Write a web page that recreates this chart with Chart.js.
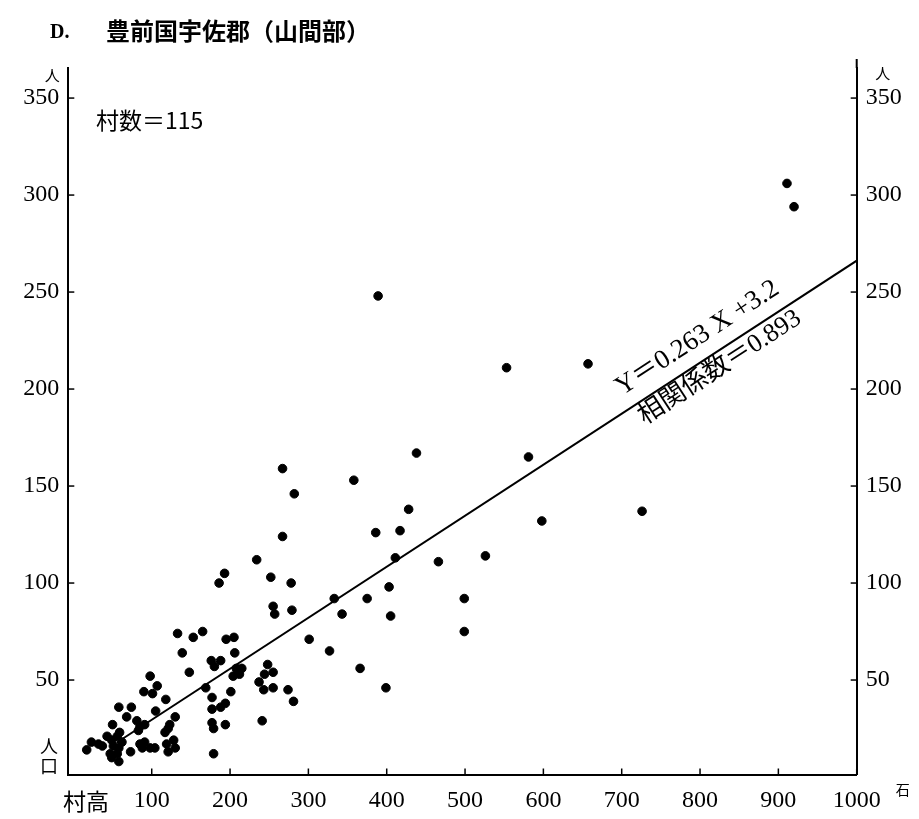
<!DOCTYPE html>
<html>
<head>
<meta charset="utf-8">
<script src="https://cdn.jsdelivr.net/npm/chart.js@4.4.1/dist/chart.umd.min.js"></script>
<style>
  html, body { margin: 0; padding: 0; background: #fff; }
  canvas { display: block; }
</style>
</head>
<body>
<canvas id="chart" width="919" height="819"></canvas>
<script>
// 村高 (石)
const muraDaka = [
  911, 920, 389, 553, 657, 438, 581, 726, 598, 526, 499, 499,
  267, 358, 282, 428, 267, 386, 417, 411, 466, 234, 193, 186, 252, 278, 403, 375, 333,
  255, 257, 279, 343, 405, 301, 327, 366, 399,
  133, 153, 165, 195, 205, 139, 206, 176, 188, 180, 148, 208, 215, 212, 204,
  248, 244, 255, 237, 243, 255, 274, 281, 169, 177, 201, 194, 188, 177,
  98, 107, 101, 118, 90, 241, 130, 123, 121, 117, 128, 119, 130, 121,
  177, 179, 194, 179, 105, 81, 85, 91, 83, 58, 74, 68, 50, 59,
  85, 91, 98, 88, 104,
  23, 17, 32, 37, 43, 49, 56, 62, 51, 58, 47, 56, 49, 58, 73
];
// 人口 (人)
const jinkou = [
  306, 294, 248, 211, 213, 167, 165, 137, 132, 114, 92, 75,
  159, 153, 146, 138, 124, 126, 127, 113, 111, 112, 105, 100, 103, 100, 98, 92, 92,
  88, 84, 86, 84, 83, 71, 65, 56, 46,
  74, 72, 75, 71, 72, 64, 64, 60, 60, 57, 54, 56, 56, 53, 52,
  58, 53, 54, 49, 45, 46, 45, 39, 46, 41, 44, 38, 36, 35,
  52, 47, 43, 40, 44, 29, 31, 27, 25, 23, 19, 17, 15, 13,
  28, 25, 27, 12, 34, 29, 26, 27, 24, 36, 36, 31, 27, 23,
  17, 18, 15, 15, 15,
  18, 14, 17, 16, 21, 19, 21, 18, 16, 15, 12, 12, 10, 8, 13
];
const xTicks = [100, 200, 300, 400, 500, 600, 700, 800, 900, 1000];
const yTicks = [50, 100, 150, 200, 250, 300, 350];

// 回帰直線 Y = 0.263X + 3.2
const slope = 0.263;
const intercept = 3.2;
const lineX = [55, 1000];

const numFont = "'Liberation Serif', 'Noto Sans CJK JP', serif";
const jpFont = "'Noto Sans CJK JP', sans-serif";

const yScale = (pos) => ({
  type: 'linear',
  position: pos,
  min: 1.3,
  max: 365.5,
  afterBuildTicks: s => { s.ticks = yTicks.map(v => ({ value: v })); },
  afterFit: s => { s.width = pos === 'left' ? 68.3 : 62.3; },
  grid: { display: false, drawTicks: false },
  border: { display: true, color: '#000', width: 2 },
  ticks: { color: '#000', font: { family: numFont, size: 24 }, padding: 9, callback: v => String(v) }
});

const decor = {
  id: 'decor',
  afterDraw(chart) {
    const { ctx, chartArea: a, scales: { x, y, y2 } } = chart;
    ctx.save();
    ctx.strokeStyle = '#000';
    ctx.lineWidth = 1.5;
    const seg = (x1, y1, x2, y2_) => { ctx.beginPath(); ctx.moveTo(x1, y1); ctx.lineTo(x2, y2_); ctx.stroke(); };
    // 目盛りは内向き
    x.ticks.forEach(t => { const p = x.getPixelForValue(t.value); seg(p, a.bottom, p, a.bottom - 6); });
    y.ticks.forEach(t => { const p = y.getPixelForValue(t.value); seg(a.left, p, a.left + 6, p); });
    y2.ticks.forEach(t => { const p = y2.getPixelForValue(t.value); seg(a.right, p, a.right - 6, p); });
    // 右軸は少し上まで伸びる
    ctx.lineWidth = 2;
    seg(a.right, a.top, a.right, a.top - 9);

    ctx.fillStyle = '#000';
    // タイトル
    ctx.textBaseline = 'alphabetic';
    ctx.textAlign = 'left';
    ctx.font = `bold 20px ${numFont}`;
    ctx.fillText('D.', 50, 38);
    ctx.font = `bold 24px ${jpFont}`;
    ctx.fillText('豊前国宇佐郡（山間部）', 106, 40);

    ctx.font = `23px ${jpFont}`;
    ctx.fillText('村数＝115', 96, 129);

    // 単位
    ctx.textAlign = 'center';
    ctx.font = `15px ${jpFont}`;
    ctx.fillText('人', a.left - 16, a.top + 13);
    ctx.fillText('人', a.right + 26, a.top + 11);
    ctx.font = `18px ${jpFont}`;
    ctx.fillText('人', 49, 753);
    ctx.fillText('口', 49, 773);
    ctx.font = `23px ${jpFont}`;
    ctx.fillText('村高', 86, 810);
    ctx.font = `14px ${jpFont}`;
    ctx.fillText('石', a.right + 46, 795);

    // 回帰式
    const ang = Math.atan2(
      y.getPixelForValue(slope * 1000 + intercept) - y.getPixelForValue(slope * 500 + intercept),
      x.getPixelForValue(1000) - x.getPixelForValue(500)
    );
    const put = (xv, off, txt, font) => {
      const px = x.getPixelForValue(xv);
      const py = y.getPixelForValue(slope * xv + intercept);
      ctx.save();
      ctx.translate(px, py);
      ctx.rotate(ang);
      ctx.font = font;
      ctx.textAlign = 'center';
      ctx.textBaseline = 'middle';
      ctx.fillText(txt, 0, off);
      ctx.restore();
    };
    put(812, -22, 'Y＝0.263 X +3.2', `27px ${numFont}`);
    put(815, 15, '相関係数＝0.893', `26px ${numFont}`);
    ctx.restore();
  }
};

new Chart(document.getElementById('chart'), {
  type: 'scatter',
  data: {
    datasets: [
      {
        data: muraDaka.map((v, i) => ({ x: v, y: jinkou[i] })),
        backgroundColor: '#000',
        borderColor: '#000',
        pointRadius: 4.3,
        pointHoverRadius: 4.3
      },
      {
        type: 'line',
        data: lineX.map(v => ({ x: v, y: slope * v + intercept })),
        borderColor: '#000',
        borderWidth: 2,
        pointRadius: 0,
        fill: false
      }
    ]
  },
  options: {
    responsive: false,
    animation: false,
    events: [],
    layout: { padding: { top: 68 } },
    plugins: { legend: { display: false }, tooltip: { enabled: false } },
    scales: {
      x: {
        type: 'linear',
        min: -6.5,
        max: 1000,
        afterBuildTicks: s => { s.ticks = xTicks.map(v => ({ value: v })); },
        afterFit: s => { s.height = 44.5; },
        grid: { display: false, drawTicks: false },
        border: { display: true, color: '#000', width: 2 },
        ticks: { color: '#000', font: { family: numFont, size: 24 }, padding: 12, maxRotation: 0, autoSkip: false, callback: v => String(v) }
      },
      y: yScale('left'),
      y2: yScale('right')
    }
  },
  plugins: [decor]
});
</script>
</body>
</html>
